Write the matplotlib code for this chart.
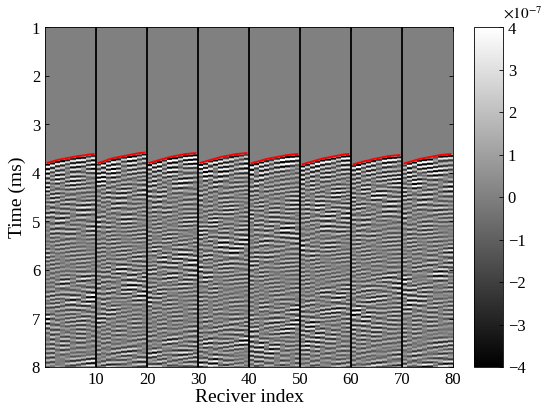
import numpy as np
import matplotlib
matplotlib.use("Agg")
import matplotlib.pyplot as plt

plt.rcParams['font.family'] = ['Liberation Serif', 'DejaVu Serif']
plt.rcParams['mathtext.fontset'] = 'stix'

# First-arrival picks (ms), 8 gathers x 10 receivers
picks_g1 = [3.79, 3.76, 3.73, 3.71, 3.69, 3.67, 3.65, 3.64, 3.62, 3.61]
picks_g2 = [3.79, 3.76, 3.72, 3.69, 3.67, 3.65, 3.63, 3.61, 3.59, 3.58]
picks_g3 = [3.79, 3.76, 3.73, 3.70, 3.67, 3.65, 3.63, 3.61, 3.60, 3.59]
picks_g4 = [3.79, 3.76, 3.73, 3.70, 3.67, 3.65, 3.63, 3.61, 3.60, 3.59]
picks_g5 = [3.80, 3.77, 3.74, 3.71, 3.69, 3.67, 3.65, 3.63, 3.62, 3.61]
picks_g6 = [3.82, 3.79, 3.76, 3.73, 3.70, 3.68, 3.66, 3.64, 3.62, 3.61]
picks_g7 = [3.82, 3.79, 3.76, 3.74, 3.71, 3.69, 3.67, 3.65, 3.64, 3.63]
picks_g8 = [3.80, 3.77, 3.74, 3.71, 3.69, 3.67, 3.65, 3.63, 3.62, 3.61]
picks = [picks_g1, picks_g2, picks_g3, picks_g4, picks_g5, picks_g6, picks_g7, picks_g8]

# Wave-train components (approximate texture of the gathers)
wave_freq = [11.0, 9.6, 12.4, 10.3, 8.7, 11.7, 13.3]        # cycles per ms
wave_amp = [2.0e-7, 1.2e-7, 1.0e-7, 1.05e-7, 0.9e-7, 0.8e-7, 0.7e-7]
wave_dip = [0.0, 0.006, -0.005, 0.010, -0.008, 0.003, -0.011]   # ms per receiver
wave_phase = [0.0, 1.3, 2.1, 0.4, 2.8, 0.9, 1.7]
wave_beat = [0.0, 0.55, 0.8, 0.35, 0.65, 0.95, 0.45]          # envelope beat, cycles per ms

cticks = [-4, -3, -2, -1, 0, 1, 2, 3, 4]
yticks = [1, 2, 3, 4, 5, 6, 7, 8]
xticks = [10, 20, 30, 40, 50, 60, 70, 80]

t = np.linspace(1.0, 8.0, 340)
ntr = 80
data = np.zeros((t.size, ntr))
for g, grp in enumerate(picks):
    for j, t0 in enumerate(grp):
        k = g * 10 + j
        tau = t - t0
        s = wave_amp[0] * np.cos(2 * np.pi * wave_freq[0] * tau) * (0.5 + 1.8 * np.exp(-tau / 0.3))
        for i in range(1, len(wave_freq)):
            env = 0.6 + 0.6 * np.cos(2 * np.pi * wave_beat[i] * (t + 0.05 * j) + 1.1 * g + i)
            s += env * wave_amp[i] * np.cos(2 * np.pi * wave_freq[i] * (t - wave_dip[i] * j * (1 + 0.15 * (t - 4)))
                                            + wave_phase[i] + 0.7 * g * i)
        ramp = np.clip(tau / 0.04, 0, 1)
        data[:, k] = s * ramp

fig = plt.figure(figsize=(5.5, 4.19), dpi=100)
ax = fig.add_axes([45 / 550, 52 / 419, 408 / 550, 339.5 / 419])
im = ax.imshow(data, cmap='gray', vmin=-4e-7, vmax=4e-7, aspect='auto',
               extent=[0, 80, 8, 1], interpolation='nearest')
for g, grp in enumerate(picks):
    xs = np.arange(10) + g * 10 + 0.5
    ax.plot(xs, grp, color='red', lw=1.4)
for xb in range(10, 80, 10):
    ax.axvline(xb, color='black', lw=1.3)
ax.set_xlim(0, 80)
ax.set_ylim(8, 1)
ax.set_xticks(xticks)
ax.set_yticks(yticks)
ax.tick_params(direction='in', top=True, right=True, labelsize=12, length=3, width=0.6)
ax.set_xlabel('Reciver index', fontsize=14, labelpad=1)
ax.set_ylabel('Time (ms)', fontsize=14, labelpad=4)
for sp in ax.spines.values():
    sp.set_linewidth(0.6)

cax = fig.add_axes([474 / 550, 52 / 419, 29 / 550, 339.5 / 419])
cb = fig.colorbar(im, cax=cax)
cb.set_ticks([c * 1e-7 for c in cticks])
cb.set_ticklabels([str(c) if c >= 0 else '\u2212' + str(-c) for c in cticks])
cax.tick_params(direction='in', labelsize=12, length=3, width=0.6)
cb.outline.set_linewidth(0.6)
cax.text(1.0, 1.025, r'$\times 10^{-7}$', transform=cax.transAxes, fontsize=11,
         ha='left', va='baseline')

fig.savefig('out.png', dpi=100)
